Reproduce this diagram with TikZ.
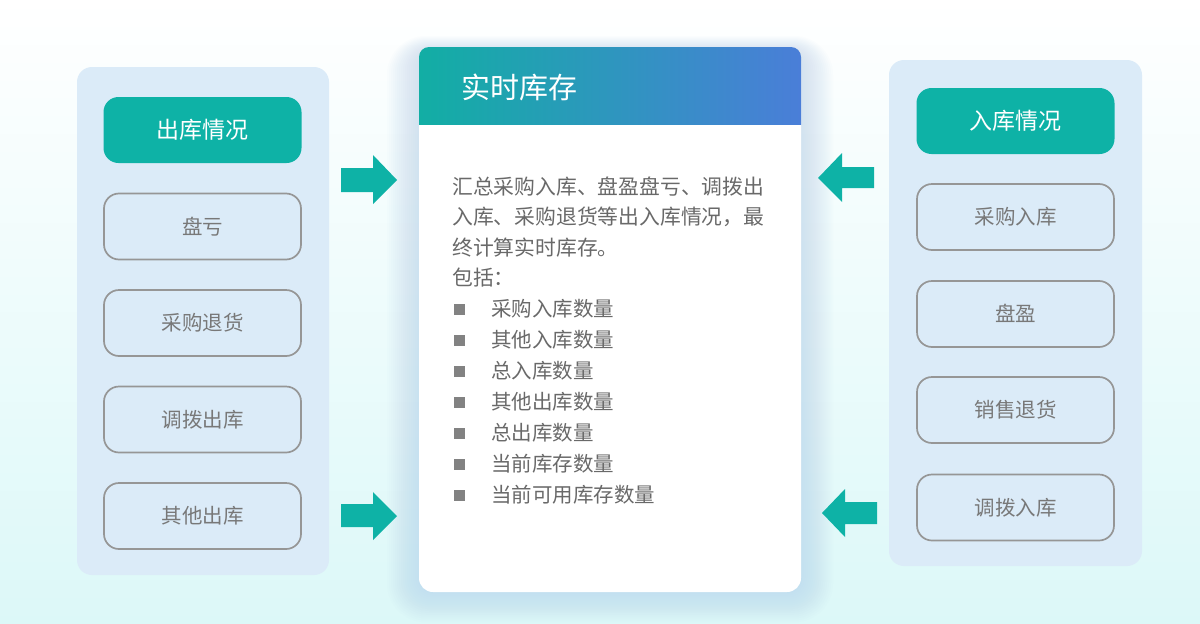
\documentclass[tikz,border=0pt]{standalone}
\usepackage{fontspec}
\setmainfont{Noto Sans CJK SC}
\definecolor{tealc}{RGB}{14,178,166}
\definecolor{blueh}{RGB}{74,126,216}
\definecolor{tealh}{RGB}{18,174,164}
\definecolor{panelc}{RGB}{219,235,248}
\definecolor{grayb}{RGB}{150,150,150}
\definecolor{itemt}{RGB}{120,120,120}
\definecolor{bodyt}{RGB}{105,105,105}
\definecolor{bullc}{RGB}{130,130,130}
\definecolor{bgc}{RGB}{220,248,248}
\definecolor{glowc}{RGB}{170,202,240}
\tikzset{
  panel/.style={fill=panelc, rounded corners=15},
  headbox/.style={fill=tealc, rounded corners=15, minimum width=198, minimum height=66, inner sep=0,
    text=white, font=\fontsize{23}{23}\selectfont, text height=19.1, text depth=1.6},
  itembox/.style={draw=grayb, line width=1.7, rounded corners=15, minimum width=197, minimum height=66, inner sep=0,
    text=itemt, font=\fontsize{20.5}{20.5}\selectfont, text height=17, text depth=1.4},
  bodytext/.style={anchor=base west, inner sep=0, text=bodyt, font=\fontsize{20.8}{20.8}\selectfont},
  bullet/.style={fill=bullc, minimum size=11, inner sep=0},
  blockarrow/.style={fill=tealc},
}
\begin{document}
\begin{tikzpicture}[x=1pt, y=-1pt]
\useasboundingbox (0,0) rectangle (1200,624);
% background
\shade[top color=white, bottom color=bgc] (0,0) rectangle (1200,624);
% panels
\fill[panel] (77,67) rectangle (329,575);
\fill[panel] (889,60) rectangle (1142,566);
% glow around centre card
\foreach \i in {1,...,16} {
  \fill[glowc, opacity=0.032, rounded corners=15+\i*1.5] (419-\i*2.0,47-\i*1.0+5) rectangle (801+\i*2.0,592+\i*1.9);
}
% centre card
\fill[white, rounded corners=14] (419,47) rectangle (801,592);
\begin{scope}
  \clip (410,40) rectangle (810,124);
  \shade[left color=tealh, right color=blueh, rounded corners=10] (419,47) rectangle (801,150);
\end{scope}
\node[anchor=base west, inner sep=0, text=white, font=\fontsize{29}{29}\selectfont] (title) at (461,98) {实时库存};
% body text
\node[bodytext] (l1) at (452,194) {汇总采购入库、盘盈盘亏、调拨出};
\node[bodytext] (l2) at (452,224.5) {入库、采购退货等出入库情况，最};
\node[bodytext] (l3) at (452,255) {终计算实时库存。};
\node[bodytext] (l4) at (452,285.5) {包括：};
\foreach \t [count=\k] in {采购入库数量,其他入库数量,总入库数量,其他出库数量,总出库数量,当前库存数量,当前可用库存数量} {
  \pgfmathsetmacro{\yy}{309+(\k-1)*31}
  \node[bullet] (b\k) at (459,\yy) {};
  \node[bodytext, font=\fontsize{20.5}{20.5}\selectfont] (t\k) at (491,\yy+7.8) {\t};
}
% left column
\node[headbox] (outh) at (202.5,130) {出库情况};
\node[itembox] (o1) at (202.5,226.5) {盘亏};
\node[itembox] (o2) at (202.5,323) {采购退货};
\node[itembox] (o3) at (202.5,419.5) {调拨出库};
\node[itembox] (o4) at (202.5,516) {其他出库};
% right column
\node[headbox] (inh) at (1015.5,121) {入库情况};
\node[itembox] (i1) at (1015.5,217) {采购入库};
\node[itembox] (i2) at (1015.5,314) {盘盈};
\node[itembox] (i3) at (1015.5,410) {销售退货};
\node[itembox] (i4) at (1015.5,507.5) {调拨入库};
% block arrows
\fill[blockarrow] (341,168) -- (373,168) -- (373,155) -- (397,180) -- (373,204) -- (373,192) -- (341,192) -- cycle;
\fill[blockarrow] (341,504) -- (373,504) -- (373,492) -- (397,516) -- (373,540) -- (373,527) -- (341,527) -- cycle;
\fill[blockarrow] (874,167) -- (842,167) -- (842,153) -- (818,178) -- (842,202) -- (842,188) -- (874,188) -- cycle;
\fill[blockarrow] (877,502) -- (845,502) -- (845,489) -- (822,513) -- (845,537) -- (845,524) -- (877,524) -- cycle;
\end{tikzpicture}
\end{document}
